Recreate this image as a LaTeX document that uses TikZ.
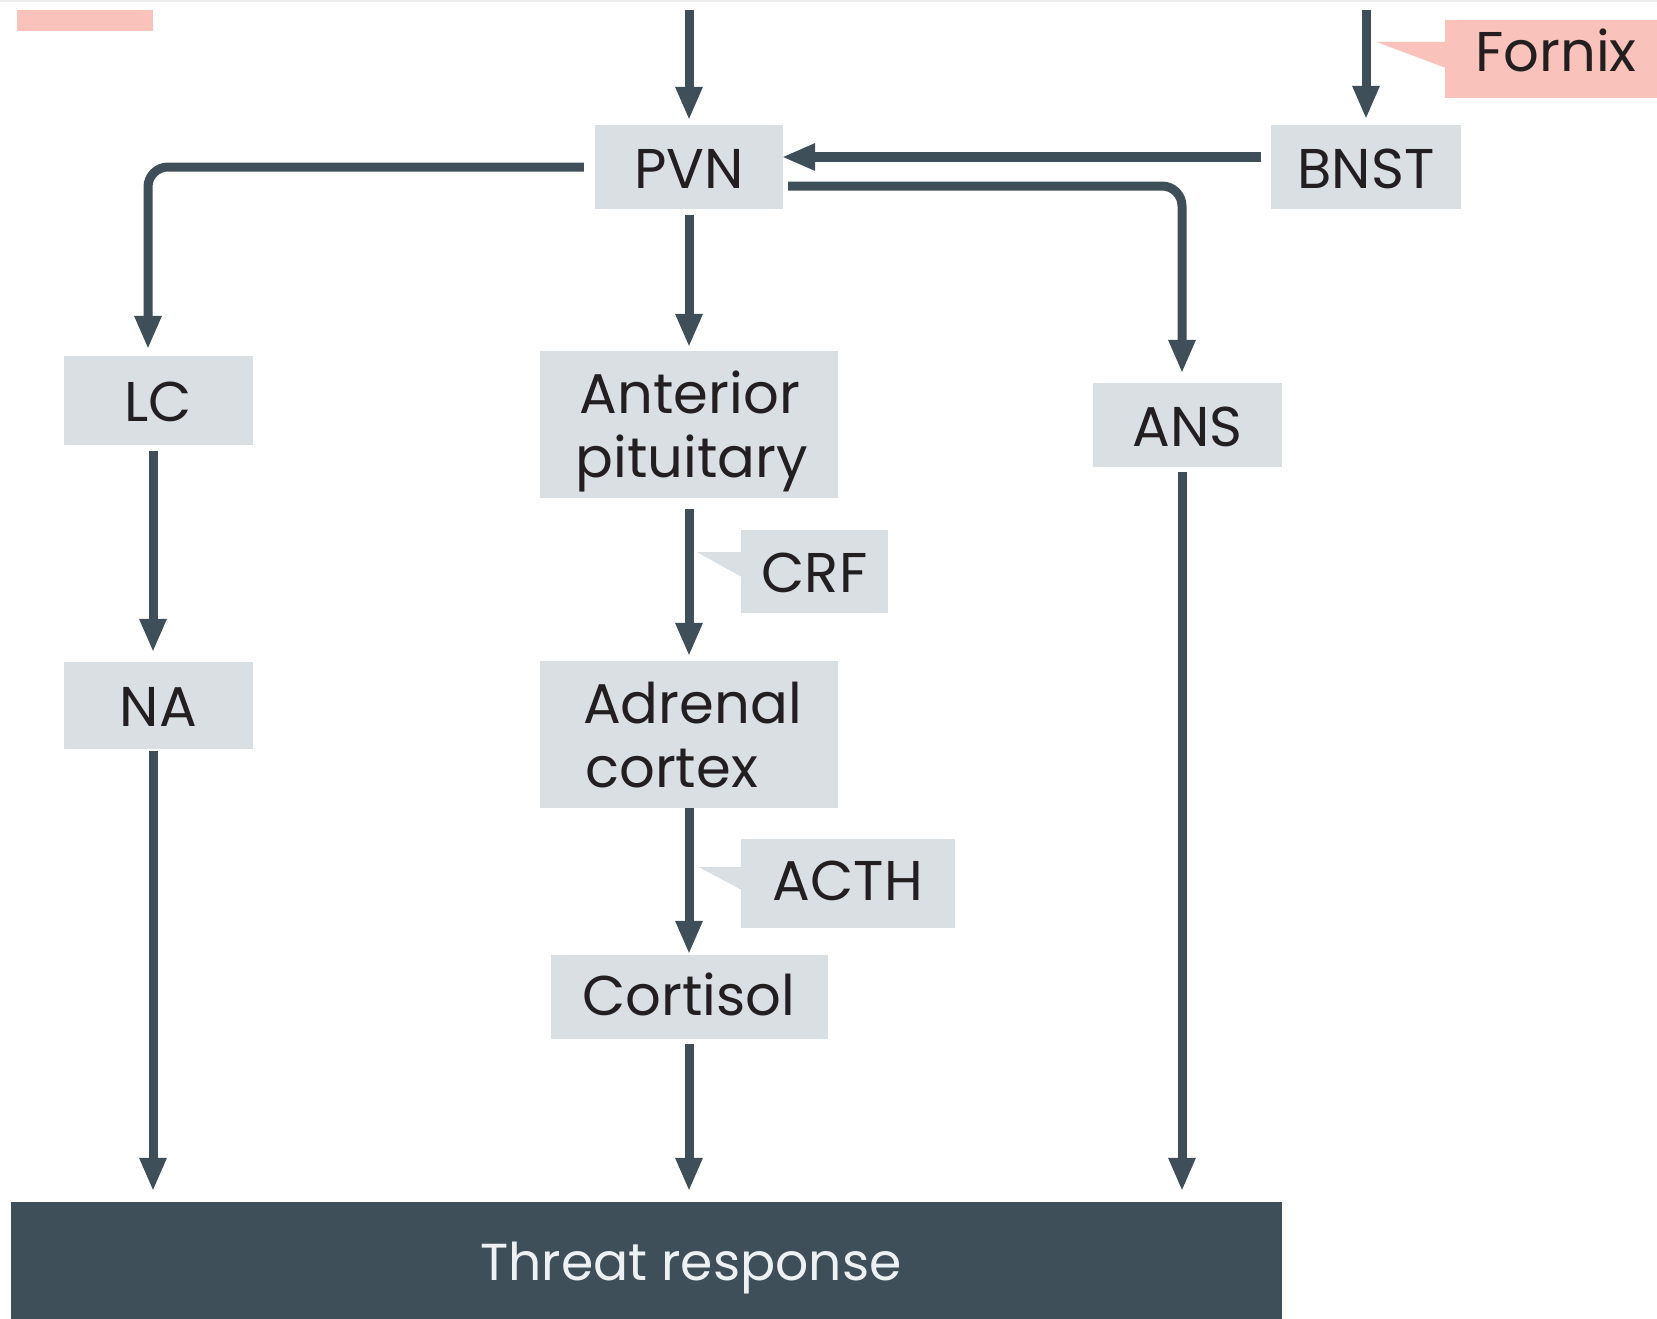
\documentclass[tikz,border=0pt]{standalone}
\usepackage{fontspec}
\setmainfont{Poppins}
\usetikzlibrary{arrows.meta,calc}
\definecolor{boxgrey}{HTML}{D9DFE2}
\definecolor{darkline}{HTML}{3E4F5A}
\definecolor{pinkfill}{HTML}{F9C2BA}
\definecolor{txtcol}{HTML}{231F20}
\definecolor{lighttxt}{HTML}{EEF1F3}
\definecolor{topline}{HTML}{EBEBEB}
\tikzset{
  boxnode/.style={fill=boxgrey, inner sep=0pt, text=txtcol, font=\fontsize{56}{64}\selectfont,
    text height=42pt, text depth=0pt},
  linetxt/.style={inner sep=0pt, text=txtcol, font=\fontsize{56}{64}\selectfont},
  arr/.style={draw=darkline, line width=9pt, -{Triangle[width=28pt,length=32pt,line width=0pt]}},
  elbow/.style={arr, rounded corners=20pt},
}
\begin{document}
\begin{tikzpicture}[x=1pt,y=-1pt]
\useasboundingbox (0,0) rectangle (1657,1319);
\fill[white] (0,0) rectangle (1657,1319);
\fill[topline] (0,0) rectangle (1657,2);
\fill[pinkfill] (17,10) rectangle (153,31);

% boxes
\node[boxnode, minimum width=188pt, minimum height=84pt] (pvn) at (689,167) {PVN};
\node[boxnode, minimum width=190pt, minimum height=84pt] (bnst) at (1366,167) {BNST};
\node[boxnode, fill=pinkfill, minimum width=222pt, minimum height=78pt, text depth=16pt] (fornix) at (1556,59) {Fornix};
\node[boxnode, minimum width=189pt, minimum height=89pt] (lc) at (158.5,400.5) {LC};
\node[boxnode, minimum width=189pt, minimum height=87pt] (na) at (158.5,705.5) {NA};
\node[boxnode, minimum width=298pt, minimum height=147pt] (ap) at (689,424.5) {};
\node[linetxt, anchor=base] (aptxt1) at (690,413) {Anterior};
\node[linetxt, anchor=base] (aptxt2) at (692,477) {pituitary};
\node[boxnode, minimum width=298pt, minimum height=147pt] (ac) at (689,734.5) {};
\node[linetxt, anchor=base west] (actxt1) at (583,723) {Adrenal};
\node[linetxt, anchor=base west] (actxt2) at (585,787) {cortex};
\node[boxnode, minimum width=277pt, minimum height=84pt, text depth=6pt] (cortisol) at (689,997) {Cortisol};
\node[boxnode, minimum width=189pt, minimum height=84pt] (ans) at (1187.5,425) {ANS};
\node[boxnode, minimum width=147pt, minimum height=83pt] (crf) at (814.5,571.5) {CRF};
\node[boxnode, minimum width=214pt, minimum height=89pt, text depth=9pt] (acth) at (848,883.5) {ACTH};
\node[fill=darkline, inner sep=0pt, minimum width=1271pt, minimum height=117pt] (threat) at (646.5,1260.5) {};
\node[linetxt, text=lighttxt, anchor=base, font=\fontsize{52}{60}\selectfont] (threattxt) at (691,1280) {Threat response};

% callout pointers
\fill[pinkfill] ($(fornix.west)+(-68,-17)$) -- ($(fornix.west)+(1,-17)$) -- ($(fornix.west)+(1,9)$) -- cycle;
\fill[boxgrey] ($(crf.west)+(-44,-19.5)$) -- ($(crf.west)+(1,-19.5)$) -- ($(crf.west)+(1,5.5)$) -- cycle;
\fill[boxgrey] ($(acth.west)+(-42,-16.5)$) -- ($(acth.west)+(1,-16.5)$) -- ($(acth.west)+(1,6.5)$) -- cycle;

% connectors
\coordinate (pvnin) at (689,10);
\coordinate (bnstin) at (1366,10);
\draw[arr, shorten >=6pt] (pvnin) -- (pvn.north);
\draw[arr, shorten >=7pt] (bnstin) -- (bnst.north);
\draw[arr, shorten <=10pt, shorten >=0pt] ([yshift=10pt]bnst.west) -- ([yshift=10pt]pvn.east);
\draw[elbow] ([xshift=-11pt]pvn.west) -| ([xshift=-10.5pt,yshift=8pt]lc.north);
\draw[elbow] ([xshift=5pt,yshift=-19pt]pvn.east) -| ([xshift=-5.5pt,yshift=11pt]ans.north);
\draw[arr, shorten <=6pt, shorten >=5pt] (pvn.south) -- (ap.north);
\draw[arr, shorten <=11pt, shorten >=6pt] (ap.south) -- (ac.north);
\draw[arr, shorten >=2pt] (ac.south) -- (cortisol.north);
\draw[arr, shorten <=5pt, shorten >=12pt] (cortisol.south) -- (cortisol.south |- threat.north);
\draw[arr, shorten <=6pt, shorten >=11pt] ([xshift=-5.5pt]lc.south) -- ([xshift=-5.5pt]na.north);
\draw[arr, shorten <=2pt, shorten >=12pt] ([xshift=-5.5pt]na.south) -- ($(na.south |- threat.north)+(-5.5,0)$);
\draw[arr, shorten <=5pt, shorten >=12pt] ([xshift=-5.5pt]ans.south) -- ($(ans.south |- threat.north)+(-5.5,0)$);
\end{tikzpicture}
\end{document}
